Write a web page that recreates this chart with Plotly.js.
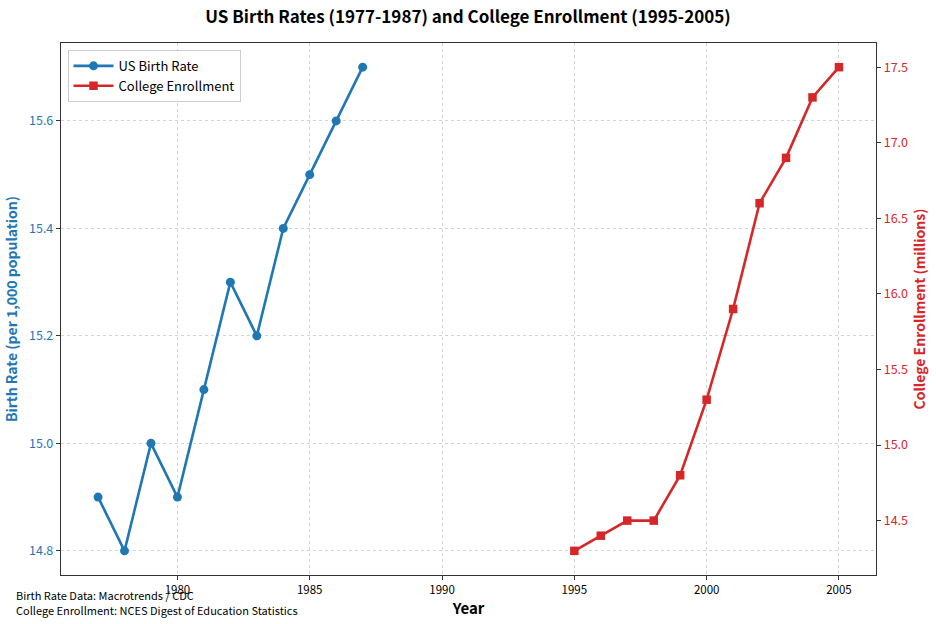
<!DOCTYPE html>
<html>
<head>
<meta charset="utf-8">
<script src="https://cdn.plot.ly/plotly-3.0.1.min.js"></script>
<style>
  html, body { margin: 0; padding: 0; background: #fff; }
  #chart { width: 936px; height: 624px; }
</style>
</head>
<body>
<div id="chart"></div>
<script>
// US birth rate, per 1,000 population
const birthYears = [1977, 1978, 1979, 1980, 1981, 1982, 1983, 1984, 1985, 1986, 1987];
const birthRates = [14.9, 14.8, 15.0, 14.9, 15.1, 15.3, 15.2, 15.4, 15.5, 15.6, 15.7];

// US college enrollment, millions of students
const enrollYears = [1995, 1996, 1997, 1998, 1999, 2000, 2001, 2002, 2003, 2004, 2005];
const enrollment = [14.3, 14.4, 14.5, 14.5, 14.8, 15.3, 15.9, 16.6, 16.9, 17.3, 17.5];

const xTicks = [1980, 1985, 1990, 1995, 2000, 2005];
const leftTicks = [14.8, 15.0, 15.2, 15.4, 15.6];
const rightTicks = [14.5, 15.0, 15.5, 16.0, 16.5, 17.0, 17.5];

const BLUE = '#1f77b4';
const RED = '#d62728';
const FONT = '"Noto Sans CJK JP", "Noto Sans", sans-serif';
const GRID = '#d3d3d3';

const traces = [
  {
    x: birthYears, y: birthRates, name: 'US Birth Rate',
    type: 'scatter', mode: 'lines+markers',
    line: { color: BLUE, width: 2.6 },
    marker: { color: BLUE, size: 9, symbol: 'circle' },
    yaxis: 'y'
  },
  {
    x: enrollYears, y: enrollment, name: 'College Enrollment',
    type: 'scatter', mode: 'lines+markers',
    line: { color: RED, width: 2.6 },
    marker: { color: RED, size: 8.5, symbol: 'square' },
    yaxis: 'y2'
  }
];

const layout = {
  width: 936, height: 624,
  margin: { l: 61, r: 60, t: 43, b: 49 },
  paper_bgcolor: '#fff', plot_bgcolor: '#fff',
  font: { family: FONT, size: 12, color: '#000' },
  title: {
    text: '<b>US Birth Rates (1977-1987) and College Enrollment (1995-2005)</b>',
    font: { family: FONT, size: 17, color: '#000' },
    x: 0.5, xanchor: 'center', y: 0.972, yanchor: 'middle'
  },
  showlegend: true,
  legend: {
    x: 0.008, y: 0.987, xanchor: 'left', yanchor: 'top',
    bgcolor: 'rgba(255,255,255,0.85)', bordercolor: '#cccccc', borderwidth: 1,
    font: { family: FONT, size: 13, color: '#000' },
    tracegroupgap: 0, itemwidth: 40
  },
  xaxis: {
    range: [1975.6, 2006.4],
    tickvals: xTicks, ticktext: xTicks.map(String),
    ticks: 'outside', ticklen: 4, tickcolor: '#333',
    tickfont: { family: FONT, size: 11.5, color: '#000' },
    showline: true, linecolor: '#333', linewidth: 1.2, mirror: true,
    showgrid: true, gridcolor: GRID, griddash: '3px,3px', gridwidth: 1,
    zeroline: false,
    title: { text: '<b>Year</b>', font: { family: FONT, size: 15, color: '#000' }, standoff: 6 }
  },
  yaxis: {
    range: [14.755, 15.745],
    tickvals: leftTicks, ticktext: leftTicks.map(v => v.toFixed(1)),
    ticks: 'outside', ticklen: 4, tickcolor: '#333',
    tickfont: { family: FONT, size: 12.5, color: BLUE },
    showline: true, linecolor: '#333', linewidth: 1.2,
    showgrid: true, gridcolor: GRID, griddash: '3px,3px', gridwidth: 1,
    zeroline: false,
    title: { text: '<b>Birth Rate (per 1,000 population)</b>', font: { family: FONT, size: 14, color: BLUE }, standoff: 8 }
  },
  yaxis2: {
    overlaying: 'y', side: 'right',
    range: [14.14, 17.66],
    tickvals: rightTicks, ticktext: rightTicks.map(v => v.toFixed(1)),
    ticks: 'outside', ticklen: 4, tickcolor: '#333',
    tickfont: { family: FONT, size: 12.5, color: RED },
    showline: true, linecolor: '#333', linewidth: 1.2,
    showgrid: false, zeroline: false,
    title: { text: '<b>College Enrollment (millions)</b>', font: { family: FONT, size: 14, color: RED }, standoff: 8 }
  },
  annotations: [
    {
      xref: 'paper', yref: 'paper', x: -0.0577, y: -0.0376,
      xanchor: 'left', yanchor: 'middle', showarrow: false, align: 'left',
      text: 'Birth Rate Data: Macrotrends / CDC',
      font: { family: FONT, size: 11, color: '#000' }
    },
    {
      xref: 'paper', yref: 'paper', x: -0.0577, y: -0.0658,
      xanchor: 'left', yanchor: 'middle', showarrow: false, align: 'left',
      text: 'College Enrollment: NCES Digest of Education Statistics',
      font: { family: FONT, size: 11, color: '#000' }
    }
  ]
};

Plotly.newPlot('chart', traces, layout, { displayModeBar: false, staticPlot: true });
</script>
</body>
</html>
